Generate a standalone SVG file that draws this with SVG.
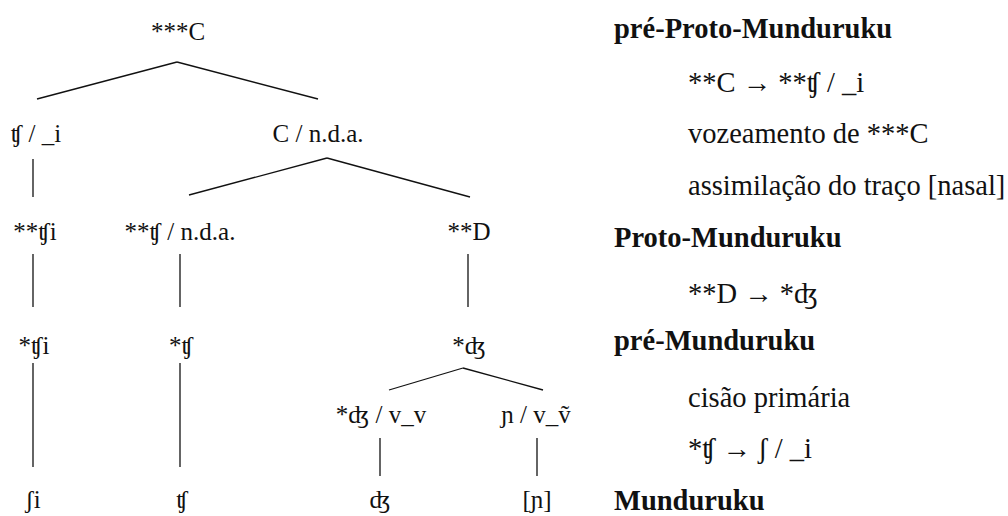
<svg xmlns="http://www.w3.org/2000/svg" width="1008" height="516" viewBox="0 0 1008 516">
<style>
text{font-family:"Liberation Serif","DejaVu Serif",serif;font-size:25px;fill:#111}
.t{text-anchor:middle}
.l{font-size:28.5px}
.h{font-weight:bold;font-size:28.5px}
line{stroke:#111;stroke-width:1.3;fill:none}
</style>
<rect width="1008" height="516" fill="#fff"/>
<g id="connectors">
<line x1="37" y1="99" x2="177" y2="62"/>
<line x1="177" y1="62" x2="318" y2="99"/>
<line x1="33" y1="159" x2="33" y2="197"/>
<line x1="189" y1="195" x2="327" y2="158"/>
<line x1="327" y1="158" x2="470" y2="197"/>
<line x1="33" y1="254" x2="33" y2="307"/>
<line x1="180" y1="254" x2="180" y2="307"/>
<line x1="468" y1="254" x2="468" y2="307"/>
<line x1="33" y1="363" x2="33" y2="467"/>
<line x1="180" y1="363" x2="180" y2="467"/>
<line x1="389" y1="390" x2="463" y2="368"/>
<line x1="463" y1="368" x2="543" y2="390"/>
<line x1="380" y1="438" x2="380" y2="476"/>
<line x1="537" y1="438" x2="537" y2="476"/>
</g>
<g id="n-root"><text class="t" x="178" y="40">***C</text></g>
<g id="n-tsh-i"><text class="t" x="36" y="142">ʧ / _i</text></g>
<g id="n-C-nda"><text class="t" x="318" y="142">C / n.d.a.</text></g>
<g id="n-tshi2"><text class="t" x="35" y="240">**ʧi</text></g>
<g id="n-tsh-nda"><text class="t" x="180" y="240">**ʧ / n.d.a.</text></g>
<g id="n-D"><text class="t" x="469" y="240">**D</text></g>
<g id="n-tshi1"><text class="t" x="34" y="354">*ʧi</text></g>
<g id="n-tsh1"><text class="t" x="181" y="354">*ʧ</text></g>
<g id="n-dzh1"><text class="t" x="469" y="354">*ʤ</text></g>
<g id="n-dzh-vv"><text class="t" x="381" y="423">*ʤ / v_v</text></g>
<g id="n-nj-vv"><text class="t" x="536" y="423">ɲ / v_ṽ</text></g>
<g id="n-shi"><text class="t" x="33" y="508">ʃi</text></g>
<g id="n-tsh"><text class="t" x="182" y="508">ʧ</text></g>
<g id="n-dzh"><text class="t" x="380" y="508">ʤ</text></g>
<g id="n-nj"><text class="t" x="537" y="508">[ɲ]</text></g>
<g id="legend">
<text class="h" x="614" y="38">pré-Proto-Munduruku</text>
<text class="l" x="688" y="92">**C → **ʧ / _i</text>
<text class="l" x="688" y="143">vozeamento de ***C</text>
<text class="l" x="688" y="195">assimilação do traço [nasal]</text>
<text class="h" x="614" y="247">Proto-Munduruku</text>
<text class="l" x="688" y="303">**D → *ʤ</text>
<text class="h" x="614" y="350">pré-Munduruku</text>
<text class="l" x="688" y="407">cisão primária</text>
<text class="l" x="688" y="458">*ʧ → ʃ / _i</text>
<text class="h" x="614" y="510">Munduruku</text>
</g>
</svg>
